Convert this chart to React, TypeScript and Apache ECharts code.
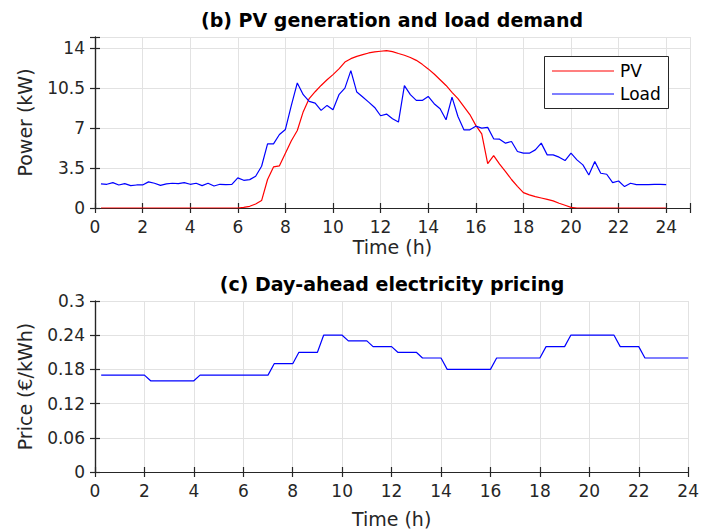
import React, { useEffect, useRef } from 'react';
import * as echarts from 'echarts';

// Quarter-hour sample times (h): 0.25 ... 24
const sampleTimes: number[] = Array.from({ length: 96 }, (_, i) => (i + 1) * 0.25);

// PV generation (kW), one value per quarter hour
const pvKW: number[] = [
  0, 0, 0, 0, 0, 0, 0, 0, 0, 0, 0, 0,
  0, 0, 0, 0, 0, 0, 0, 0, 0, 0, 0, 0,
  0.05, 0.15, 0.35, 0.65,
  2.5, 3.6, 3.7, 4.8,
  5.9, 6.8, 8.45, 9.6,
  10.2, 10.75, 11.25, 11.7,
  12.2, 12.8, 13.1, 13.3,
  13.45, 13.6, 13.7, 13.75,
  13.8, 13.72, 13.55, 13.4,
  13.2, 12.95, 12.6, 12.2,
  11.75, 11.25, 10.75, 10.15,
  9.6, 8.9, 8.2, 7.25,
  6.5, 3.9, 4.6, 3.85,
  3.2, 2.5, 1.9, 1.35,
  1.15, 1.0, 0.88, 0.76,
  0.62, 0.42, 0.24, 0.06,
  0, 0, 0, 0, 0, 0, 0, 0,
  0, 0, 0, 0, 0, 0, 0, 0,
];

// Load demand (kW), one value per quarter hour
const loadKW: number[] = [
  2.11, 2.08, 2.23, 2.02,
  2.14, 1.96, 2.02, 2.02,
  2.29, 2.17, 1.99, 2.11,
  2.17, 2.14, 2.23, 2.08,
  2.17, 1.96, 2.17, 1.93,
  2.08, 2.05, 2.08, 2.64,
  2.43, 2.49, 2.78, 3.66,
  5.63, 5.63, 6.45, 6.89,
  9.0, 10.97, 9.94, 9.35,
  9.2, 8.56, 9.0, 8.62,
  9.94, 10.52, 12.05, 10.17,
  9.73, 9.29, 8.82, 8.09,
  8.24, 7.83, 7.54, 10.73,
  9.94, 9.44, 9.44, 9.79,
  9.15, 8.71, 7.74, 9.73,
  8.03, 6.86, 6.86, 7.18,
  7.01, 7.07, 6.07, 6.04,
  5.69, 5.83, 4.96, 4.81,
  4.81, 5.1, 5.69, 4.66,
  4.66, 4.46, 4.16, 4.81,
  4.22, 3.78, 2.9, 4.07,
  3.05, 2.96, 2.23, 2.37,
  1.88, 2.17, 2.05, 2.05,
  2.05, 2.07, 2.08, 2.05,
];

// Day-ahead price (EUR/kWh), one value per quarter hour
const priceEurKWh: number[] = [
  0.17, 0.17, 0.17, 0.17,
  0.17, 0.17, 0.17, 0.17,
  0.16, 0.16, 0.16, 0.16,
  0.16, 0.16, 0.16, 0.16,
  0.17, 0.17, 0.17, 0.17,
  0.17, 0.17, 0.17, 0.17,
  0.17, 0.17, 0.17, 0.17,
  0.19, 0.19, 0.19, 0.19,
  0.21, 0.21, 0.21, 0.21,
  0.24, 0.24, 0.24, 0.24,
  0.23, 0.23, 0.23, 0.23,
  0.22, 0.22, 0.22, 0.22,
  0.21, 0.21, 0.21, 0.21,
  0.20, 0.20, 0.20, 0.20,
  0.18, 0.18, 0.18, 0.18,
  0.18, 0.18, 0.18, 0.18,
  0.20, 0.20, 0.20, 0.20,
  0.20, 0.20, 0.20, 0.20,
  0.22, 0.22, 0.22, 0.22,
  0.24, 0.24, 0.24, 0.24,
  0.24, 0.24, 0.24, 0.24,
  0.22, 0.22, 0.22, 0.22,
  0.20, 0.20, 0.20, 0.20,
  0.20, 0.20, 0.20, 0.20,
];

const FONT = 'DejaVu Sans';
const AX = '#262626';
const GRIDC = '#e2e2e2';
const RED = '#ff0000';
const BLUE = '#0000ff';

function App() {
  const ref = useRef<HTMLDivElement>(null);

  useEffect(() => {
    if (!ref.current) return;
    const chart = echarts.init(ref.current, undefined, { renderer: 'svg' });

    const labelStyle = { fontFamily: FONT, fontSize: 17, color: AX };
    const nameStyle = { fontFamily: FONT, fontSize: 19, color: AX };
    const axisLine = { show: true, lineStyle: { color: AX, width: 1.2 } };
    const tick = { show: true, inside: true, length: 5, lineStyle: { color: AX, width: 1.2 } };
    const split = { show: true, lineStyle: { color: GRIDC, width: 1 } };
    const fmt = (lim: number) => (v: number) => (v > lim + 1e-9 ? '' : String(+v.toFixed(2)));

    const xMain = (gridIndex: number, max: number, nameGap: number) => ({
      type: 'value', gridIndex, min: 0, max, interval: 2, position: 'bottom',
      axisLine, axisTick: tick, splitLine: split,
      axisLabel: { ...labelStyle, margin: 10, formatter: fmt(24) },
      name: 'Time (h)', nameLocation: 'middle', nameGap, nameTextStyle: nameStyle,
    });
    const xTop = (gridIndex: number, max: number) => ({
      type: 'value', gridIndex, min: 0, max, interval: 2, position: 'top',
      axisLine, axisTick: tick, splitLine: { show: false }, axisLabel: { show: false },
    });
    const yMain = (gridIndex: number, max: number, interval: number, lim: number, name: string) => ({
      type: 'value', gridIndex, min: 0, max, interval, position: 'left',
      axisLine, axisTick: tick, splitLine: split,
      axisLabel: { ...labelStyle, margin: 10, formatter: fmt(lim) },
      name, nameLocation: 'middle', nameGap: 61, nameTextStyle: nameStyle,
    });
    const yRight = (gridIndex: number, max: number, interval: number) => ({
      type: 'value', gridIndex, min: 0, max, interval, position: 'right',
      axisLine, axisTick: tick, splitLine: { show: false }, axisLabel: { show: false },
    });

    chart.setOption({
      animation: false,
      backgroundColor: '#ffffff',
      grid: [
        { left: 95, top: 37, width: 595, height: 171 },
        { left: 95, top: 301, width: 594, height: 171 },
      ],
      xAxis: [xMain(0, 25, 29), xTop(0, 25), xMain(1, 24, 37), xTop(1, 24)],
      yAxis: [
        yMain(0, 15, 3.5, 14, 'Power (kW)'),
        yRight(0, 15, 3.5),
        yMain(1, 0.3, 0.06, 0.3, 'Price (€/kWh)'),
        yRight(1, 0.3, 0.06),
      ],
      series: [
        {
          name: 'PV', type: 'line', xAxisIndex: 0, yAxisIndex: 0, symbol: 'none',
          lineStyle: { color: RED, width: 1.2 }, itemStyle: { color: RED },
          data: sampleTimes.map((t, i) => [t, pvKW[i]]),
        },
        {
          name: 'Load', type: 'line', xAxisIndex: 0, yAxisIndex: 0, symbol: 'none',
          lineStyle: { color: BLUE, width: 1.2 }, itemStyle: { color: BLUE },
          data: sampleTimes.map((t, i) => [t, loadKW[i]]),
        },
        {
          name: 'Price', type: 'line', xAxisIndex: 2, yAxisIndex: 2, symbol: 'none',
          lineStyle: { color: BLUE, width: 1.2 }, itemStyle: { color: BLUE },
          data: sampleTimes.map((t, i) => [t, priceEurKWh[i]]),
        },
      ],
      graphic: [
        {
          type: 'text', x: 392, y: 20, z: 100,
          style: {
            text: '(b) PV generation and load demand', fill: '#000',
            fontFamily: FONT, fontSize: 19, fontWeight: 'bold',
            align: 'center', verticalAlign: 'middle', textAlign: 'center', textVerticalAlign: 'middle',
          },
        },
        {
          type: 'text', x: 392, y: 284, z: 100,
          style: {
            text: '(c) Day-ahead electricity pricing', fill: '#000',
            fontFamily: FONT, fontSize: 19, fontWeight: 'bold',
            align: 'center', verticalAlign: 'middle', textAlign: 'center', textVerticalAlign: 'middle',
          },
        },
        {
          type: 'rect', z: 100,
          shape: { x: 544.5, y: 56.5, width: 124, height: 52 },
          style: { fill: '#ffffff', stroke: AX, lineWidth: 1 },
        },
        {
          type: 'line', z: 101,
          shape: { x1: 552, y1: 71, x2: 614, y2: 71 },
          style: { stroke: RED, lineWidth: 1.2 },
        },
        {
          type: 'line', z: 101,
          shape: { x1: 552, y1: 94, x2: 614, y2: 94 },
          style: { stroke: BLUE, lineWidth: 1.2 },
        },
        {
          type: 'text', x: 620, y: 71, z: 101,
          style: {
            text: 'PV', fill: '#000', fontFamily: FONT, fontSize: 17,
            align: 'left', verticalAlign: 'middle', textAlign: 'left', textVerticalAlign: 'middle',
          },
        },
        {
          type: 'text', x: 620, y: 94, z: 101,
          style: {
            text: 'Load', fill: '#000', fontFamily: FONT, fontSize: 17,
            align: 'left', verticalAlign: 'middle', textAlign: 'left', textVerticalAlign: 'middle',
          },
        },
      ],
    });

    return () => chart.dispose();
  }, []);

  return (
    <div
      ref={ref}
      style={{ position: 'fixed', left: 0, top: 0, width: 702, height: 532, background: '#fff' }}
    />
  );
}

export default App;
